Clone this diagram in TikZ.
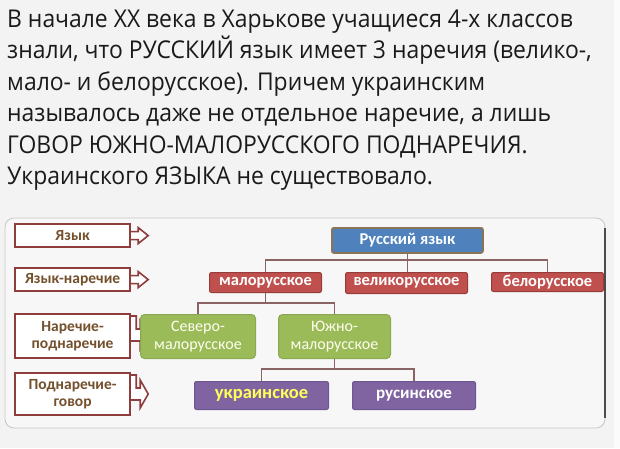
\documentclass[tikz,border=0pt]{standalone}
\usepackage{fontspec}
\setmainfont{Open Sans}[FakeStretch=0.935]
\newfontfamily\dfont{Carlito}
\usetikzlibrary{calc}
\definecolor{bgc}{HTML}{F3F3F3}
\definecolor{panelc}{HTML}{F7F7F7}
\definecolor{bodytxt}{HTML}{1A1A1A}
\definecolor{lblred}{HTML}{8E3C3C}
\definecolor{lbltxt}{HTML}{74502D}
\definecolor{redf}{HTML}{C0504D}
\definecolor{redd}{HTML}{963C3A}
\definecolor{bluef}{HTML}{4F81BD}
\definecolor{blued}{HTML}{8B7355}
\definecolor{greenf}{HTML}{9BBB59}
\definecolor{purf}{HTML}{8064A2}
\definecolor{purd}{HTML}{6E5690}
\definecolor{connc}{HTML}{8A6464}
\definecolor{yel}{HTML}{FFFF5A}
\begin{document}
\begin{tikzpicture}[x=1pt,y=-1pt,
  bodyline/.style={anchor=base west,inner sep=0pt,text=bodytxt,font=\fontsize{24.5}{30}\selectfont},
  lbl/.style={draw=lblred,line width=2.2pt,fill=white,text=lbltxt,align=center,
    font=\dfont\bfseries\fontsize{15.5}{17.5}\selectfont,inner sep=0pt,anchor=north west,minimum width=115pt},
  arr/.style={draw=lblred,line width=1.6pt,fill=white,line join=miter},
  box/.style={anchor=north west,inner sep=0pt,rounded corners=2pt,line width=1pt,align=center},
  redbox/.style={box,fill=redf,draw=redd,text=white,font=\dfont\bfseries\fontsize{16.5}{18}\selectfont,minimum height=20pt},
  bluebox/.style={box,fill=bluef,draw=blued,line width=1.8pt,text=white,font=\dfont\bfseries\fontsize{16.5}{18}\selectfont},
  greenbox/.style={box,fill=greenf,draw=greenf!90!black,rounded corners=4pt,text=white!94!yellow,font=\dfont\fontsize{16}{18}\selectfont},
  purbox/.style={box,fill=purf,draw=purd,text=white,font=\dfont\bfseries\fontsize{17}{19}\selectfont,minimum height=28pt},
  conn/.style={draw=connc,line width=1.3pt}
]
\useasboundingbox (0,0) rectangle (620,448);
\fill[bgc] (0,0) rectangle (620,448);
\fill[white!97!gray] (614,0) rectangle (620,448);
% body text
\node[bodyline] (t1) at (7,27) {В начале XX века в Харькове учащиеся 4-х классов};
\node[bodyline] (t2) at (7,58.5) {знали, что РУССКИЙ язык имеет 3 наречия (велико-,};
\node[bodyline] (t3) at (7,90) {мало- и белорусское). Причем украинским};
\node[bodyline] (t4) at (7,121.5) {называлось даже не отдельное наречие, а лишь};
\node[bodyline] (t5) at (7,153) {ГОВОР ЮЖНО-МАЛОРУССКОГО ПОДНАРЕЧИЯ.};
\node[bodyline] (t6) at (7,184.5) {Украинского ЯЗЫКА не существовало.};
% panel
\draw[draw=gray!45,fill=panelc,rounded corners=9pt,line width=0.8pt] (5,218) rectangle (605,428);
\draw[draw=black!70,line width=1.4pt] (605,228) -- (605,418);
% label boxes
\node[lbl,minimum height=23pt] (L1) at (14,223) {Язык};
\node[lbl,minimum height=23pt] (L2) at (14,267) {Язык-наречие};
\node[lbl,minimum height=44pt] (L3) at (14,313) {Наречие-\\поднаречие};
\node[lbl,minimum height=42pt] (L4) at (14,372) {Поднаречие-\\говор};
% arrows
\foreach \n in {L1,L2}{
  \draw[arr] ($(\n.east)+(0,-4)$) -- ++(7,0) -- ++(0,-4) -- ++(10,8) -- ++(-10,8) -- ++(0,-4) -- ++(-7,0);
}
\foreach \n in {L3,L4}{
  \draw[arr] ($(\n.north east)+(0,3)$) -- ++(5,0) -- ++(0,13) -- ++(4,0) -- ++(0,-8) -- ++(8,14) -- ++(-8,14) -- ++(0,-8) -- ++(-9,0);
}
% tree nodes
\node[bluebox,minimum width=151pt,minimum height=25pt] (R) at (331,227) {Русский язык};
\node[redbox,minimum width=112pt] (M) at (209,272) {малорусское};
\node[redbox,minimum width=122pt,minimum height=21pt] (V) at (345,272) {великорусское};
\node[redbox,minimum width=112pt,minimum height=19pt] (B) at (491,272) {белорусское};
\node[greenbox,minimum width=115pt,minimum height=44pt] (S) at (140,314) {Северо-\\малорусское};
\node[greenbox,minimum width=112pt,minimum height=44pt] (Y) at (278,314) {Южно-\\малорусское};
\node[purbox,minimum width=134pt,text=yel,font=\dfont\bfseries\fontsize{18.5}{20}\selectfont] (U) at (194,381) {украинское};
\node[purbox,minimum width=123pt] (Ru) at (352,381) {русинское};
% connectors
\coordinate (b1) at (0,260);
\coordinate (b2) at (0,303);
\coordinate (b3) at (0,369);
\draw[conn] (R.south) -- (R.south |- V.north);
\draw[conn] (M.north) -- (M.north |- b1) -- (B.north |- b1) -- (B.north);
\draw[conn] (M.south) -- (M.south |- b2);
\draw[conn] (S.north) -- (S.north |- b2) -- (Y.north |- b2) -- (Y.north);
\draw[conn] (Y.south) -- (Y.south |- b3);
\draw[conn] (U.north) -- (U.north |- b3) -- (Ru.north |- b3) -- (Ru.north);
\end{tikzpicture}
\end{document}
